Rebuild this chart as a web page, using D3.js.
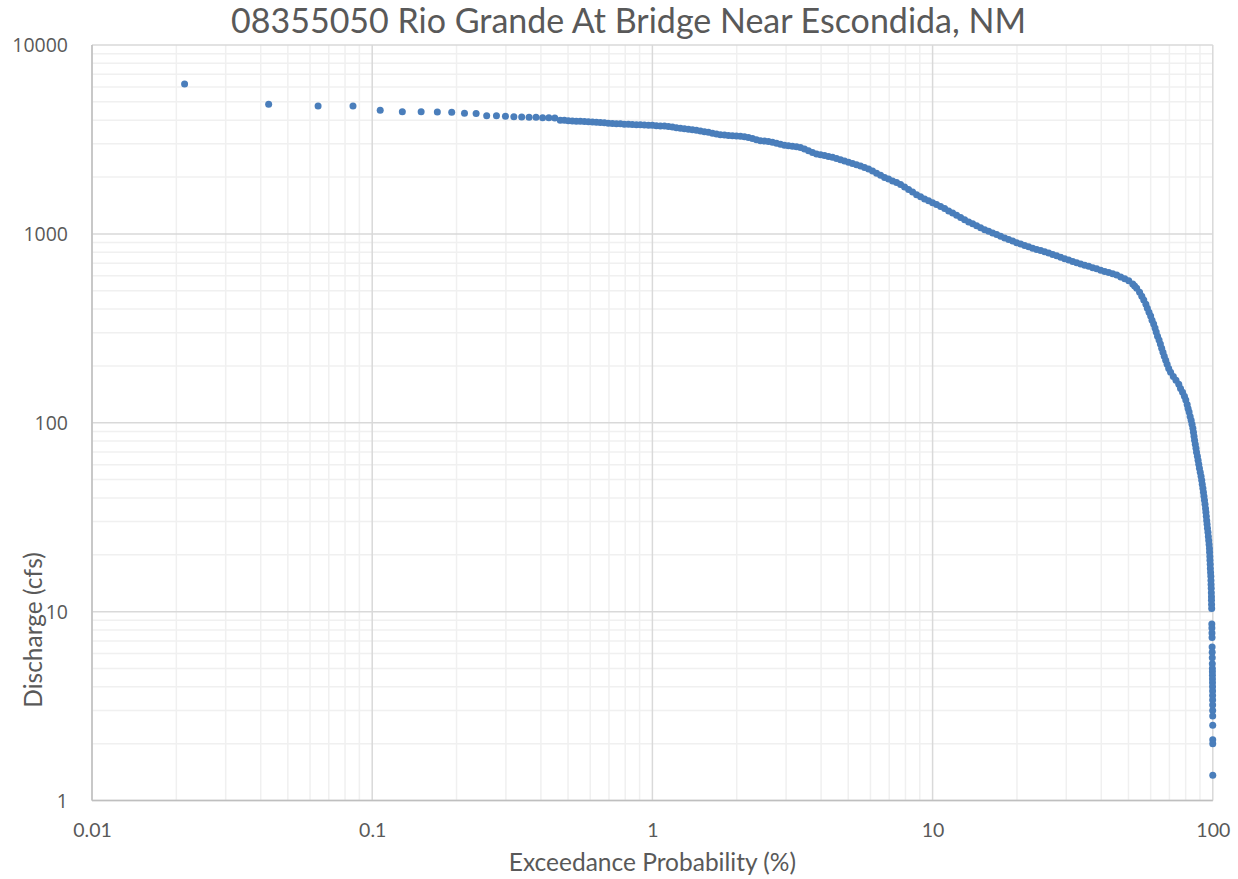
<!DOCTYPE html>
<html>
<head>
<meta charset="utf-8">
<script src="https://cdn.jsdelivr.net/npm/d3@7"></script>
<style>
  body { margin: 0; background: #fff; }
  svg { display: block; }
</style>
</head>
<body>
<div id="chart"></div>
<script>
// flow duration data: exceedance (%) and discharge (cfs)

// largest flows, one dot per rank
const peakPct = [0.0214, 0.0427, 0.0641, 0.0854, 0.1068, 0.1281, 0.1495, 0.1708, 0.1922, 0.2135,
  0.2349, 0.2562, 0.2776, 0.2989, 0.3203, 0.3416, 0.3630, 0.3843, 0.4057, 0.4270, 0.4484];
const peakCfs = [6210, 4850, 4750, 4750, 4510, 4430, 4430, 4420, 4410, 4350,
  4340, 4220, 4220, 4200, 4170, 4160, 4140, 4140, 4120, 4120, 4110];

// 0.47 % - 1 %
const highPct = [0.469, 0.485, 0.501, 0.518, 0.535, 0.553, 0.572, 0.591, 0.611, 0.631, 0.652, 0.674,
  0.696, 0.720, 0.744, 0.769, 0.794, 0.821, 0.848, 0.877, 0.906, 0.936, 0.968];
const highCfs = [4000, 3990, 3975, 3958, 3948, 3943, 3934, 3925, 3915, 3900, 3886, 3872,
  3857, 3843, 3834, 3825, 3811, 3801, 3797, 3788, 3783, 3774, 3765];

// 1 % - 10 %
const midPct = [1.000, 1.033, 1.068, 1.104, 1.141, 1.179, 1.218, 1.259, 1.301, 1.345, 1.390, 1.436,
  1.484, 1.534, 1.585, 1.638, 1.693, 1.749, 1.808, 1.868, 1.931, 1.995, 2.062, 2.131, 2.202, 2.276,
  2.352, 2.431, 2.512, 2.596, 2.683, 2.773, 2.865, 2.961, 3.060, 3.162, 3.268, 3.377, 3.490, 3.607,
  3.728, 3.852, 3.981, 4.114, 4.252, 4.394, 4.541, 4.693, 4.850, 5.012, 5.179, 5.353, 5.532, 5.717,
  5.908, 6.105, 6.310, 6.521, 6.739, 6.964, 7.197, 7.438, 7.686, 7.943, 8.209, 8.483, 8.767, 9.060,
  9.363, 9.676];
const midCfs = [3756, 3741, 3728, 3720, 3700, 3675, 3649, 3623, 3605, 3583, 3562, 3535,
  3504, 3478, 3448, 3415, 3378, 3345, 3333, 3321, 3308, 3296, 3284, 3268, 3240, 3197,
  3152, 3113, 3098, 3083, 3053, 3016, 2979, 2947, 2929, 2908, 2891, 2866, 2815, 2756,
  2699, 2650, 2621, 2596, 2570, 2545, 2505, 2466, 2430, 2394, 2359, 2322, 2286, 2247,
  2204, 2150, 2096, 2043, 1991, 1950, 1908, 1870, 1824, 1769, 1716, 1664, 1612, 1570,
  1532, 1496];

// 10 % - 53 %
const lowPct = [10.00, 10.33, 10.68, 11.04, 11.41, 11.79, 12.18, 12.59, 13.01, 13.45, 13.90, 14.36,
  14.84, 15.34, 15.85, 16.38, 16.93, 17.49, 18.08, 18.68, 19.31, 19.95, 20.62, 21.31, 22.02, 22.76,
  23.52, 24.31, 25.12, 25.96, 26.83, 27.73, 28.65, 29.61, 30.60, 31.62, 32.68, 33.77, 34.90, 36.07,
  37.28, 38.52, 39.81, 41.14, 42.52, 43.94, 45.41, 46.93, 48.50, 50.12, 51.79, 52.6];
const lowCfs = [1462, 1430, 1396, 1363, 1323, 1288, 1254, 1221, 1189, 1157, 1130, 1104,
  1078, 1052, 1032, 1012, 992, 970, 952, 934, 916, 898, 883, 869, 854, 839,
  827, 816, 804, 792, 778, 765, 752, 738, 727, 715, 704, 692, 682, 673,
  662, 653, 642, 633, 624, 615, 605, 591, 578, 564, 542, 529];

// 53 % - 99 %, the steep drop
const dropPct = [53.5, 54.8, 55.8, 56.7, 57.7, 58.4, 59.2, 60.0, 60.7, 61.5, 62.2, 62.8, 63.5, 64.3,
  65.0, 65.7, 66.4, 67.1, 67.9, 68.7, 69.6, 70.7, 72.3, 73.9, 75.6, 76.7, 78.0, 79.2, 80.1, 81.0,
  81.6, 82.3, 83.0, 83.7, 84.3, 84.9, 85.3, 85.7, 86.1, 86.6, 87.1, 87.5, 88.1, 88.6, 89.1, 89.6,
  90.2, 90.8, 91.3, 91.7, 92.2, 92.6, 93.0, 93.4, 93.8, 94.2, 94.5, 94.8, 95.1, 95.4, 95.7, 96.1,
  96.4, 96.7, 97.0, 97.3, 97.4, 97.6, 97.7, 97.9, 98.0, 98.2, 98.4, 98.5, 98.6, 98.7, 98.8, 98.9,
  98.9, 99.0, 99.1];
const dropCfs = [516, 491, 468, 446, 424, 404, 385, 367, 349, 333, 317, 302, 287, 274,
  261, 248, 236, 225, 214, 204, 194, 185, 176, 168, 160, 152, 145, 138, 132, 125,
  119, 114, 108, 103, 98.2, 93.5, 89.1, 84.8, 80.8, 76.9, 73.3, 69.8, 66.4, 63.3, 60.3, 57.4,
  54.7, 52.1, 49.6, 47.2, 45.0, 42.8, 40.8, 38.9, 37.0, 35.2, 33.6, 32.0, 30.4, 29.0, 27.6, 26.3,
  25.0, 23.8, 22.7, 21.6, 20.6, 19.6, 18.7, 17.8, 16.9, 16.1, 15.4, 14.6, 13.9, 13.3, 12.6, 12.0,
  11.5, 10.9, 10.4];

// smallest flows, separate dots
const tailPct = [99.20, 99.26, 99.32, 99.38, 99.44, 99.50, 99.55, 99.60, 99.64, 99.67, 99.70, 99.73,
  99.76, 99.79, 99.82, 99.84, 99.86, 99.88, 99.90, 99.92, 99.94, 99.95, 99.96, 99.98];
const tailCfs = [8.6, 8.2, 7.7, 7.3, 6.5, 6.1, 5.7, 5.3, 5.0, 4.8, 4.6, 4.4,
  4.2, 4.0, 3.8, 3.6, 3.4, 3.2, 3.0, 2.8, 2.5, 2.1, 2.0, 1.36];

const xTicks = [0.01, 0.1, 1, 10, 100];
const yTicks = [1, 10, 100, 1000, 10000];
const xTickLabels = ["0.01", "0.1", "1", "10", "100"];
const yTickLabels = ["1", "10", "100", "1000", "10000"];

const title = "08355050 Rio Grande At Bridge Near Escondida, NM";
const xTitle = "Exceedance Probability (%)";
const yTitle = "Discharge (cfs)";

// put the segments together
const pct = [].concat(peakPct, highPct, midPct, lowPct, dropPct, tailPct);
const cfs = [].concat(peakCfs, highCfs, midCfs, lowCfs, dropCfs, tailCfs);
const data = pct.map((p, i) => ({ p: p, q: cfs[i] }));

const width = 1238,
  height = 879,
  plot = { left: 92, right: 1212.8, top: 45, bottom: 800.5 },
  radius = 3.5,
  dotColor = "#4a7ebb",
  textColor = "#595959";

const svg = d3.select("#chart")
  .append("svg")
  .attr("width", width)
  .attr("height", height);

const xScale = d3.scaleLog()
  .domain([0.01, 100])
  .range([plot.left, plot.right]);

const yScale = d3.scaleLog()
  .domain([1, 10000])
  .range([plot.bottom, plot.top]);

const isMajor = d => Math.abs(Math.log10(d) - Math.round(Math.log10(d))) < 1e-9;

// minor grid first, major on top
const grid = svg.append("g").attr("class", "grid");

grid.selectAll(".vminor")
  .data(xScale.ticks().filter(d => !isMajor(d)))
  .join("line")
  .attr("class", "vminor")
  .attr("x1", d => xScale(d)).attr("x2", d => xScale(d))
  .attr("y1", plot.top).attr("y2", plot.bottom)
  .attr("stroke", "#f0f0f0").attr("stroke-width", 1.5);

grid.selectAll(".hminor")
  .data(yScale.ticks().filter(d => !isMajor(d)))
  .join("line")
  .attr("class", "hminor")
  .attr("x1", plot.left).attr("x2", plot.right)
  .attr("y1", d => yScale(d)).attr("y2", d => yScale(d))
  .attr("stroke", "#f0f0f0").attr("stroke-width", 1.5);

grid.selectAll(".vmajor")
  .data(xTicks)
  .join("line")
  .attr("class", "vmajor")
  .attr("x1", d => xScale(d)).attr("x2", d => xScale(d))
  .attr("y1", plot.top).attr("y2", plot.bottom)
  .attr("stroke", "#d9d9d9").attr("stroke-width", 1.5);

grid.selectAll(".hmajor")
  .data(yTicks)
  .join("line")
  .attr("class", "hmajor")
  .attr("x1", plot.left).attr("x2", plot.right)
  .attr("y1", d => yScale(d)).attr("y2", d => yScale(d))
  .attr("stroke", "#d9d9d9").attr("stroke-width", 1.5);

// axes (labels only, lines drawn below)
const xAxis = d3.axisBottom(xScale)
  .tickValues(xTicks)
  .tickSize(0)
  .tickPadding(0)
  .tickFormat((d, i) => xTickLabels[i]);

const yAxis = d3.axisLeft(yScale)
  .tickValues(yTicks)
  .tickSize(0)
  .tickPadding(0)
  .tickFormat((d, i) => yTickLabels[i]);

const gx = svg.append("g")
  .attr("class", "axis x-axis")
  .attr("transform", `translate(0,${plot.bottom})`)
  .call(xAxis);
gx.select(".domain").remove();
gx.selectAll("text")
  .attr("y", 30)
  .attr("dy", "0.35em")
  .attr("fill", textColor)
  .style("font-family", "Lato, 'Open Sans', sans-serif")
  .style("font-size", "19.5px");

const gy = svg.append("g")
  .attr("class", "axis y-axis")
  .attr("transform", `translate(${plot.left},0)`)
  .call(yAxis);
gy.select(".domain").remove();
gy.selectAll("text")
  .attr("x", -24)
  .attr("dy", "0.35em")
  .attr("fill", textColor)
  .style("font-family", "'Open Sans', sans-serif")
  .style("font-size", "19.5px");

// axis lines
svg.append("line")
  .attr("x1", plot.left).attr("x2", plot.right)
  .attr("y1", plot.bottom).attr("y2", plot.bottom)
  .attr("stroke", "#bfbfbf").attr("stroke-width", 1.5);
svg.append("line")
  .attr("x1", plot.left).attr("x2", plot.left)
  .attr("y1", plot.top).attr("y2", plot.bottom)
  .attr("stroke", "#bfbfbf").attr("stroke-width", 1.5);

// dots
svg.append("g")
  .attr("class", "dots")
  .selectAll("circle")
  .data(data)
  .join("circle")
  .attr("cx", d => xScale(d.p))
  .attr("cy", d => yScale(d.q))
  .attr("r", radius)
  .attr("fill", dotColor);

// titles
svg.append("text")
  .attr("x", 628.5)
  .attr("y", 21)
  .attr("dy", "0.35em")
  .attr("text-anchor", "middle")
  .attr("fill", textColor)
  .style("font-family", "Lato, 'Open Sans', sans-serif")
  .style("font-size", "34px")
  .text(title);

svg.append("text")
  .attr("x", (plot.left + plot.right) / 2)
  .attr("y", 862)
  .attr("dy", "0.35em")
  .attr("text-anchor", "middle")
  .attr("fill", textColor)
  .style("font-family", "Lato, 'Open Sans', sans-serif")
  .style("font-size", "24.5px")
  .text(xTitle);

svg.append("text")
  .attr("transform", "translate(33,630) rotate(-90)")
  .attr("dy", "0.35em")
  .attr("text-anchor", "middle")
  .attr("fill", textColor)
  .style("font-family", "Lato, 'Open Sans', sans-serif")
  .style("font-size", "24.5px")
  .text(yTitle);
</script>
</body>
</html>
